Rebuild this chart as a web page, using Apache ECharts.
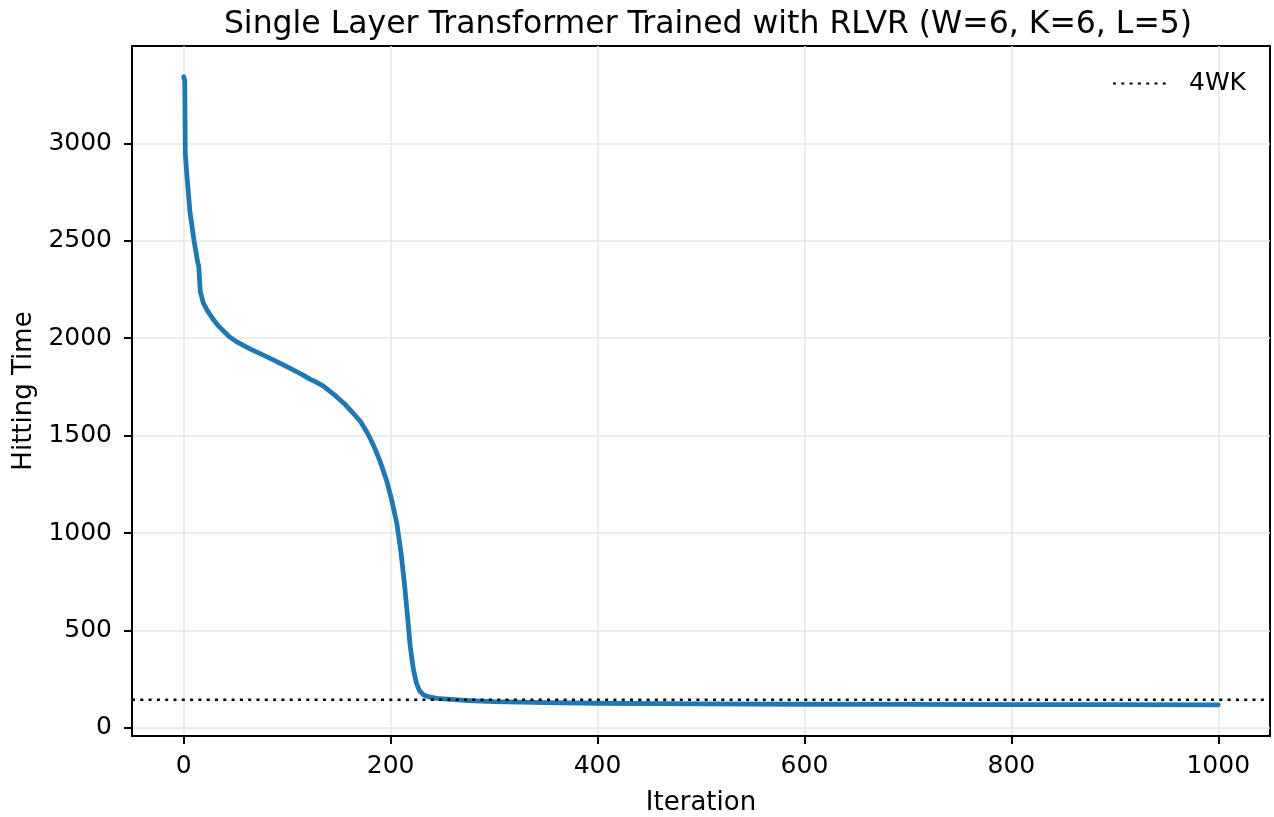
<!DOCTYPE html>
<html>
<head>
<meta charset="utf-8">
<script src="https://cdn.jsdelivr.net/npm/echarts@6/dist/echarts.min.js"></script>
<style>
  html, body { margin: 0; padding: 0; background: #fff; }
  #chart { width: 1274px; height: 817px; }
</style>
</head>
<body>
<div id="chart"></div>
<script>
// values
const iterations = [0, 1, 1.5, 3, 6, 10, 13.5, 14.5, 16, 19, 23, 29, 33, 38, 44, 51, 64, 77, 90, 103, 115, 122, 128, 135,
  145, 155, 163, 171, 178, 184, 190, 196, 201, 206, 210, 213, 216, 219, 222, 225, 228, 232, 238, 245, 258,
  275, 300, 350, 400, 500, 600, 700, 800, 900, 1000];
const hittingTime = [3342, 3320, 2950, 2840, 2650, 2500, 2390, 2370, 2240, 2180, 2140, 2093, 2066, 2040, 2008, 1982, 1945, 1913, 1880, 1845, 1812, 1790, 1775, 1754,
  1712, 1665, 1620, 1571, 1510, 1443, 1365, 1271, 1170, 1049, 900, 758, 590, 416, 300, 228, 190, 168, 157, 151, 146,
  140, 134, 129, 126, 123, 121, 120, 119, 119, 118];
const bound4WK = 144; // 4 * W * K
const xTicks = [0, 200, 400, 600, 800, 1000];
const yTicks = [0, 500, 1000, 1500, 2000, 2500, 3000];

const X_MIN = -50, X_MAX = 1050;
const Y_MIN = -42, Y_MAX = 3500;

var chart = echarts.init(document.getElementById('chart'), null, { renderer: 'canvas' });
var font = 'DejaVu Sans';

chart.setOption({
  animation: false,
  backgroundColor: '#fff',
  title: {
    text: 'Single Layer Transformer Trained with RLVR (W=6, K=6, L=5)',
    left: 703,
    top: 4,
    textAlign: 'center',
    textStyle: { fontFamily: font, fontSize: 31.5, fontWeight: 'normal', color: '#000' }
  },
  legend: {
    data: ['4WK'],
    right: 23,
    top: 66,
    itemWidth: 53,
    itemHeight: 14,
    itemStyle: { opacity: 0 },
    textStyle: { fontFamily: font, fontSize: 25, color: '#000', padding: [0, 0, 0, 18] }
  },
  grid: {
    left: 132,
    right: 4,
    top: 46,
    bottom: 81,
    containLabel: false,
    outerBoundsMode: 'none',
    show: true,
    borderColor: '#000',
    borderWidth: 2
  },
  xAxis: {
    type: 'value',
    min: X_MIN,
    max: X_MAX,
    name: 'Iteration',
    nameLocation: 'middle',
    nameGap: 54,
    nameTextStyle: { fontFamily: font, fontSize: 26, color: '#000' },
    axisLine: { onZero: false, lineStyle: { color: '#000', width: 2 } },
    axisTick: { customValues: xTicks, length: 8, lineStyle: { color: '#000', width: 2 } },
    axisLabel: {
      customValues: xTicks, fontFamily: font, fontSize: 25, color: '#000', margin: 18,
      formatter: v => String(v)
    },
    splitLine: { show: true, lineStyle: { color: '#e6e6e6', width: 1.5 } }
  },
  yAxis: {
    type: 'value',
    min: Y_MIN,
    max: Y_MAX,
    name: 'Hitting Time',
    nameLocation: 'middle',
    nameGap: 93,
    nameTextStyle: { fontFamily: font, fontSize: 26, color: '#000' },
    axisLine: { show: true, onZero: false, lineStyle: { color: '#000', width: 2 } },
    axisTick: { show: true, customValues: yTicks, length: 8, lineStyle: { color: '#000', width: 2 } },
    axisLabel: {
      customValues: yTicks, fontFamily: font, fontSize: 25, color: '#000', margin: 20,
      formatter: v => String(v)
    },
    splitLine: { show: true, lineStyle: { color: '#e6e6e6', width: 1.5 } }
  },
  series: [
    {
      name: 'RLVR',
      type: 'line',
      data: iterations.map((x, i) => [x, hittingTime[i]]),
      showSymbol: false,
      symbol: 'none',
      lineStyle: { color: '#1f77b4', width: 4.8, cap: 'round', join: 'round' },
      itemStyle: { color: '#1f77b4' },
      z: 3
    },
    {
      name: '4WK',
      type: 'line',
      data: [[X_MIN, bound4WK], [X_MAX, bound4WK]],
      showSymbol: false,
      symbol: 'none',
      lineStyle: { color: '#000', width: 2.5, type: [3, 5.3] },
      itemStyle: { color: '#000' },
      z: 4
    }
  ]
});
</script>
</body>
</html>
